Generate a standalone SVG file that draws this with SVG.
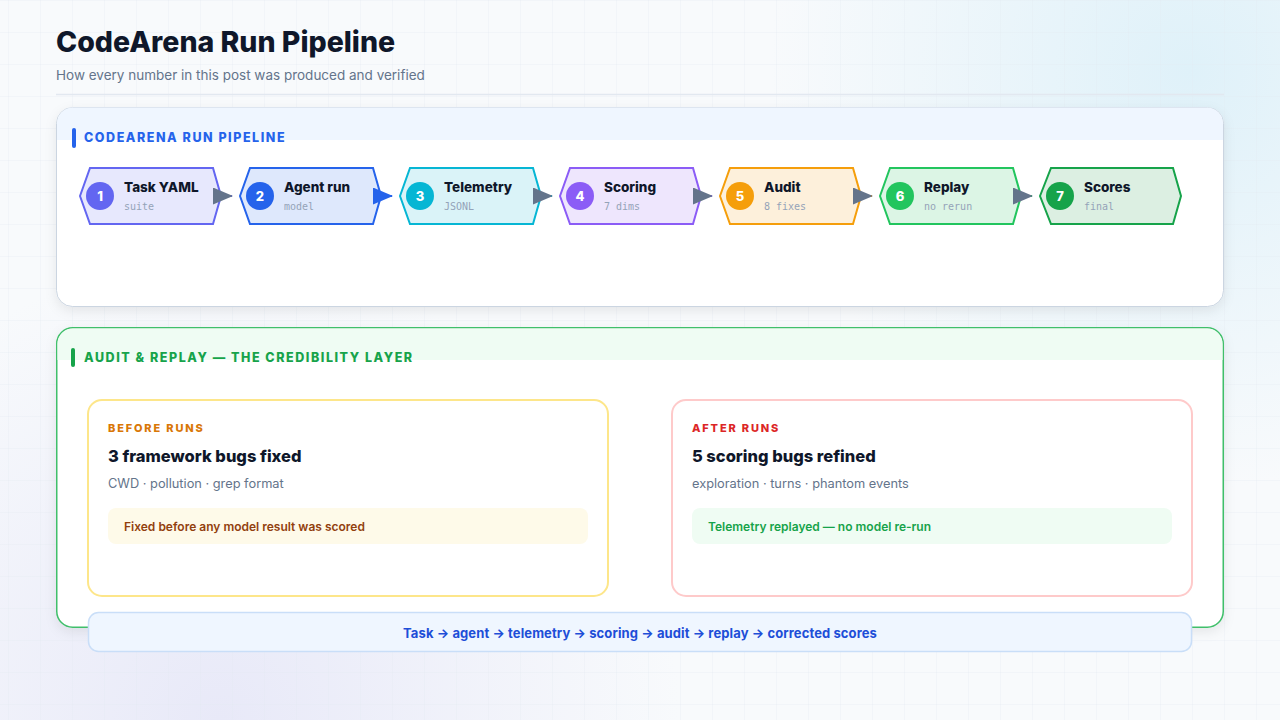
<svg xmlns="http://www.w3.org/2000/svg" width="1280" height="720" viewBox="0 0 1280 720">
  <defs>
    <pattern id="grid" width="32" height="32" patternUnits="userSpaceOnUse" x="8" y="0">
      <path d="M32 0 H0 V32" fill="none" stroke="#e2e8f0" stroke-width="1" opacity="0.55"/>
    </pattern>
    <radialGradient id="glowTR" cx="1190" cy="70" r="420" gradientUnits="userSpaceOnUse">
      <stop offset="0" stop-color="#dff1f9" stop-opacity="1"/>
      <stop offset="1" stop-color="#dff1f9" stop-opacity="0"/>
    </radialGradient>
    <radialGradient id="glowBL" cx="220" cy="720" r="460" gradientUnits="userSpaceOnUse">
      <stop offset="0" stop-color="#e8e9f8" stop-opacity="1"/>
      <stop offset="1" stop-color="#e8e9f8" stop-opacity="0"/>
    </radialGradient>
    <filter id="shadow" x="-5%" y="-10%" width="110%" height="130%">
      <feDropShadow dx="0" dy="4" stdDeviation="6" flood-color="#0f172a" flood-opacity="0.08"/>
    </filter>
    <marker id="arrGray" viewBox="0 0 20 17" refX="19" refY="8.5" markerWidth="20" markerHeight="17" markerUnits="userSpaceOnUse" orient="auto">
      <path d="M0,0 L20,8.5 L0,17 Z" fill="#64748b"/>
    </marker>
    <marker id="arrBlue" viewBox="0 0 20 17" refX="19" refY="8.5" markerWidth="20" markerHeight="17" markerUnits="userSpaceOnUse" orient="auto">
      <path d="M0,0 L20,8.5 L0,17 Z" fill="#2563eb"/>
    </marker>
    <style>
      .title{font-family:Inter,"Liberation Sans",sans-serif;font-weight:800;font-size:28.5px;fill:#0f172a;}
      .sub{font-family:Inter,"Liberation Sans",sans-serif;font-size:13.5px;fill:#64748b;}
      .hdr{font-family:Inter,"Liberation Sans",sans-serif;font-weight:800;font-size:12.5px;letter-spacing:1.55px;}
      .nt{font-family:Inter,"Liberation Sans",sans-serif;font-weight:800;font-size:13.5px;fill:#0f172a;}
      .ns{font-family:"DejaVu Sans Mono","Liberation Mono",monospace;font-size:10px;fill:#94a3b8;}
      .num{font-family:Inter,"Liberation Sans",sans-serif;font-weight:800;font-size:13px;fill:#ffffff;text-anchor:middle;}
      .hex{stroke-width:2;stroke-linejoin:miter;}
      .edge{stroke-width:2;fill:none;}
      .cardlbl{font-family:Inter,"Liberation Sans",sans-serif;font-weight:800;font-size:11px;letter-spacing:1.85px;}
      .cardttl{font-family:Inter,"Liberation Sans",sans-serif;font-weight:800;font-size:16.5px;fill:#0f172a;}
      .carddesc{font-family:Inter,"Liberation Sans",sans-serif;font-size:12.8px;fill:#64748b;}
      .note{font-family:Inter,"Liberation Sans",sans-serif;font-weight:600;font-size:12px;}
      .banner{font-family:Inter,"Liberation Sans",sans-serif;font-weight:700;font-size:13px;letter-spacing:0.1px;fill:#1d4ed8;text-anchor:middle;}
    </style>
  </defs>

  <!-- background -->
  <rect width="1280" height="720" fill="#f8fafc"/>
  <rect width="1280" height="720" fill="url(#glowTR)"/>
  <rect width="1280" height="720" fill="url(#glowBL)"/>
  <rect width="1280" height="720" fill="url(#grid)"/>

  <!-- header -->
  <text class="title" x="56" y="52">CodeArena Run Pipeline</text>
  <text class="sub" x="56" y="80">How every number in this post was produced and verified</text>
  <line x1="56" y1="94.5" x2="1224" y2="94.5" stroke="#e2e8f0" stroke-width="1.5"/>

  <!-- panel 1 -->
  <g id="panel-pipeline">
    <rect x="56.5" y="107.5" width="1167" height="199" rx="16" fill="#ffffff" stroke="#cbd5e1" stroke-width="1" filter="url(#shadow)"/>
    <path d="M57,140 V123.5 A16,16 0 0 1 73,107.5 H1207 A16,16 0 0 1 1223,123.5 V140 Z" fill="#eff6ff"/>
    <rect x="72" y="128" width="4" height="20" rx="2" fill="#2563eb"/>
    <text class="hdr" x="84" y="142" fill="#2563eb">CODEARENA RUN PIPELINE</text>
  </g>

  <!-- nodes -->
  <g id="node-1">
    <polygon class="hex" points="80,196 90,168 213,168 221,196 213,224 90,224" fill="#e7e8fd" stroke="#6366f1"/>
    <circle cx="100" cy="196" r="14" fill="#6366f1"/>
    <text class="num" x="100" y="200.5">1</text>
    <text class="nt" x="124" y="192">Task YAML</text>
    <text class="ns" x="124" y="210">suite</text>
  </g>
  <g id="node-2">
    <polygon class="hex" points="240,196 250,168 373,168 381,196 373,224 250,224" fill="#dee8fc" stroke="#2563eb"/>
    <circle cx="260" cy="196" r="14" fill="#2563eb"/>
    <text class="num" x="260" y="200.5">2</text>
    <text class="nt" x="284" y="192">Agent run</text>
    <text class="ns" x="284" y="210">model</text>
  </g>
  <g id="node-3">
    <polygon class="hex" points="400,196 410,168 533,168 541,196 533,224 410,224" fill="#daf3f8" stroke="#06b6d4"/>
    <circle cx="420" cy="196" r="14" fill="#06b6d4"/>
    <text class="num" x="420" y="200.5">3</text>
    <text class="nt" x="444" y="192">Telemetry</text>
    <text class="ns" x="444" y="210">JSONL</text>
  </g>
  <g id="node-4">
    <polygon class="hex" points="560,196 570,168 693,168 701,196 693,224 570,224" fill="#eee6fd" stroke="#8b5cf6"/>
    <circle cx="580" cy="196" r="14" fill="#8b5cf6"/>
    <text class="num" x="580" y="200.5">4</text>
    <text class="nt" x="604" y="192">Scoring</text>
    <text class="ns" x="604" y="210">7 dims</text>
  </g>
  <g id="node-5">
    <polygon class="hex" points="720,196 730,168 853,168 861,196 853,224 730,224" fill="#fdf0db" stroke="#f59e0b"/>
    <circle cx="740" cy="196" r="14" fill="#f59e0b"/>
    <text class="num" x="740" y="200.5">5</text>
    <text class="nt" x="764" y="192">Audit</text>
    <text class="ns" x="764" y="210">8 fixes</text>
  </g>
  <g id="node-6">
    <polygon class="hex" points="880,196 890,168 1013,168 1021,196 1013,224 890,224" fill="#dcf5e5" stroke="#22c55e"/>
    <circle cx="900" cy="196" r="14" fill="#22c55e"/>
    <text class="num" x="900" y="200.5">6</text>
    <text class="nt" x="924" y="192">Replay</text>
    <text class="ns" x="924" y="210">no rerun</text>
  </g>
  <g id="node-7">
    <polygon class="hex" points="1040,196 1051,168 1173,168 1181,196 1173,224 1051,224" fill="#dcefe2" stroke="#16a34a"/>
    <circle cx="1060" cy="196" r="14" fill="#16a34a"/>
    <text class="num" x="1060" y="200.5">7</text>
    <text class="nt" x="1084" y="192">Scores</text>
    <text class="ns" x="1084" y="210">final</text>
  </g>

  <!-- connectors -->
  <g id="connectors">
    <line class="edge" x1="221" y1="196" x2="232" y2="196" stroke="#6366f1" marker-end="url(#arrGray)"/>
    <line class="edge" x1="381" y1="196" x2="392" y2="196" stroke="#2563eb" marker-end="url(#arrBlue)"/>
    <line class="edge" x1="541" y1="196" x2="552" y2="196" stroke="#06b6d4" marker-end="url(#arrGray)"/>
    <line class="edge" x1="701" y1="196" x2="712" y2="196" stroke="#8b5cf6" marker-end="url(#arrGray)"/>
    <line class="edge" x1="861" y1="196" x2="872" y2="196" stroke="#f59e0b" marker-end="url(#arrGray)"/>
    <line class="edge" x1="1021" y1="196" x2="1032" y2="196" stroke="#22c55e" marker-end="url(#arrGray)"/>
  </g>

  <!-- panel 2 -->
  <g id="panel-audit">
    <rect x="56.75" y="327.75" width="1166.5" height="299.5" rx="16" fill="#ffffff" stroke="#3fbf6a" stroke-width="1.5" filter="url(#shadow)"/>
    <path d="M57.5,360 V344 A15.5,15.5 0 0 1 73,328.5 H1207 A15.5,15.5 0 0 1 1222.5,344 V360 Z" fill="#effcf3"/>
    <rect x="71" y="348" width="4" height="19" rx="2" fill="#16a34a"/>
    <text class="hdr" x="84" y="362" fill="#16a34a">AUDIT &amp; REPLAY — THE CREDIBILITY LAYER</text>
  </g>

  <g id="card-before">
    <rect x="88" y="400" width="520" height="196" rx="14" fill="#ffffff" stroke="#fde68a" stroke-width="2"/>
    <text class="cardlbl" x="108" y="432" fill="#d97706">BEFORE RUNS</text>
    <text class="cardttl" x="108" y="462">3 framework bugs fixed</text>
    <text class="carddesc" x="108" y="488">CWD · pollution · grep format</text>
    <rect x="108" y="508" width="480" height="36" rx="8" fill="#fefae9"/>
    <text class="note" x="124" y="531" fill="#92400e">Fixed before any model result was scored</text>
  </g>

  <g id="card-after">
    <rect x="672" y="400" width="520" height="196" rx="14" fill="#ffffff" stroke="#fecaca" stroke-width="2"/>
    <text class="cardlbl" x="692" y="432" fill="#dc2626">AFTER RUNS</text>
    <text class="cardttl" x="692" y="462">5 scoring bugs refined</text>
    <text class="carddesc" x="692" y="488">exploration · turns · phantom events</text>
    <rect x="692" y="508" width="480" height="36" rx="8" fill="#effcf3"/>
    <text class="note" x="708" y="531" fill="#16a34a">Telemetry replayed — no model re-run</text>
  </g>

  <g id="banner">
    <rect x="88.5" y="612.5" width="1103" height="39" rx="10" fill="#eff6ff" stroke="#c9def8" stroke-width="1.5"/>
    <text class="banner" x="640" y="638">Task → agent → telemetry → scoring → audit → replay → corrected scores</text>
  </g>
</svg>
